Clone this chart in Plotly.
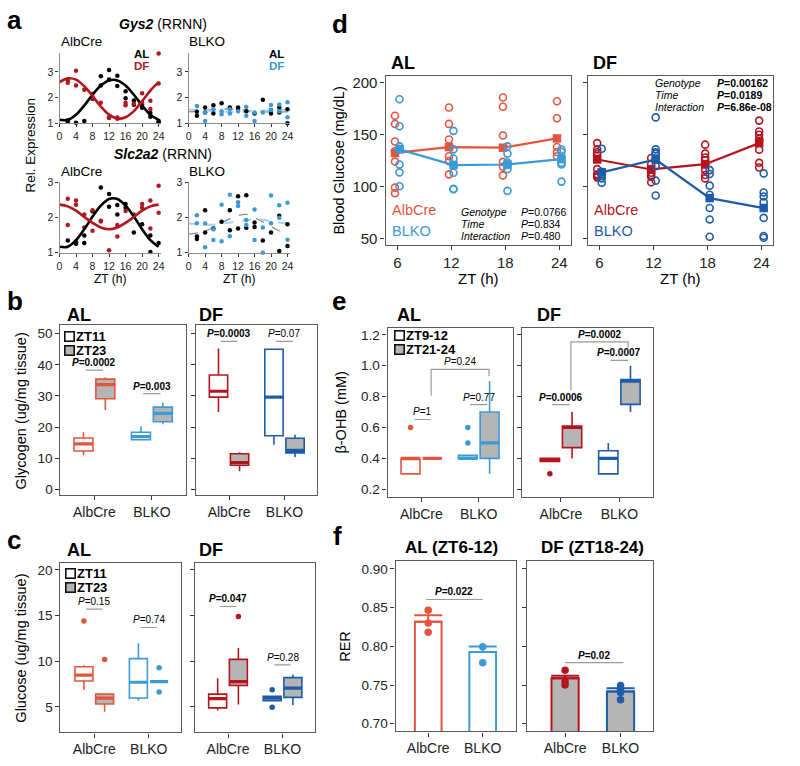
import plotly.graph_objects as go

W, H = 800, 766
FONT = "Liberation Sans, Arial, sans-serif"

# colours
C_AL_ALB = "#E4553F"
C_AL_KO = "#3C9AD6"
C_DF_ALB = "#B5141F"
C_DF_KO = "#1E5BA8"
C_A_RED = "#B0171F"
C_A_BLUE = "#3A9AD9"
GRAY_FILL = "#B5B5B5"
PLINE = "#9a9a9a"

# ======================= DATA =======================
genotypes = ["AlbCre", "BLKO"]

# ---- panel a (ZT hours, relative expression) ----
a_ticks = [0, 4, 8, 12, 16, 20, 24]
fit_zt = [0, 2, 4, 6, 8, 10, 12, 14, 16, 18, 20, 22, 24]

gys2_alb_al_zt = [2, 2, 4, 6, 8, 10, 10, 12, 12, 14, 14, 16, 16, 18, 18, 20, 20, 22, 22, 24, 24]
gys2_alb_al_val = [1.10, 1.06, 1.02, 1.08, 1.95, 2.83, 2.47, 3.08, 2.70, 2.85, 2.45, 2.25, 1.97, 1.88, 1.72, 1.72, 1.60, 1.40, 1.25, 1.08, 1.03]
gys2_alb_df_zt = [2, 2, 4, 4, 6, 8, 8, 10, 12, 12, 14, 14, 16, 16, 18, 20, 20, 22, 22, 24, 24]
gys2_alb_df_val = [2.68, 2.58, 3.05, 2.47, 2.30, 2.15, 1.98, 1.80, 1.23, 1.20, 1.17, 1.22, 1.80, 1.70, 1.76, 2.17, 1.80, 1.87, 1.55, 3.72, 2.55]
gys2_alb_al_fit = [1.13, 1.13, 1.33, 1.69, 2.11, 2.47, 2.67, 2.67, 2.47, 2.11, 1.69, 1.33, 1.13]
gys2_alb_df_fit = [2.60, 2.75, 2.70, 2.44, 2.06, 1.65, 1.33, 1.18, 1.23, 1.47, 1.86, 2.27, 2.60]

gys2_ko_al_zt = [2, 2, 4, 4, 6, 6, 8, 10, 12, 12, 14, 16, 18, 20, 20, 22, 22, 24, 24]
gys2_ko_al_val = [1.44, 1.29, 1.61, 1.42, 1.70, 1.38, 1.78, 1.61, 1.61, 1.55, 1.46, 1.38, 1.91, 1.51, 1.38, 1.61, 1.42, 1.54, 1.00]
gys2_ko_df_zt = [2, 4, 4, 6, 8, 8, 10, 10, 12, 14, 14, 16, 16, 18, 20, 20, 22, 22, 24, 24]
gys2_ko_df_val = [1.67, 1.42, 1.08, 1.54, 1.46, 1.35, 1.54, 1.38, 1.46, 1.63, 1.29, 1.08, 1.42, 1.42, 1.71, 1.51, 1.73, 1.46, 1.82, 1.23]
gys2_ko_al_fit = [1.44, 1.46, 1.50, 1.53, 1.55, 1.55, 1.53, 1.50, 1.47, 1.45, 1.44, 1.44, 1.44]
gys2_ko_df_fit = [1.52, 1.51, 1.49, 1.47, 1.45, 1.44, 1.44, 1.45, 1.46, 1.48, 1.50, 1.52, 1.52]

slc_alb_al_zt = [2, 4, 4, 6, 6, 8, 10, 12, 12, 14, 14, 16, 16, 18, 20, 22, 22, 24]
slc_alb_al_val = [1.35, 1.30, 1.26, 1.49, 1.28, 2.18, 2.86, 2.67, 2.31, 2.36, 2.09, 2.39, 2.28, 1.58, 1.81, 1.49, 1.02, 1.28]
slc_alb_df_zt = [2, 2, 4, 4, 6, 6, 8, 8, 10, 10, 12, 14, 14, 16, 18, 20, 20, 22, 22, 24, 24]
slc_alb_df_val = [2.54, 1.79, 2.49, 2.37, 2.09, 1.72, 2.21, 1.63, 1.91, 1.89, 1.07, 1.79, 1.46, 2.19, 2.09, 2.39, 2.28, 2.49, 1.69, 2.91, 2.14]
slc_alb_al_fit = [1.17, 1.17, 1.36, 1.67, 2.03, 2.34, 2.53, 2.53, 2.34, 2.03, 1.67, 1.36, 1.17]
slc_alb_df_fit = [2.37, 2.32, 2.20, 2.02, 1.85, 1.72, 1.67, 1.72, 1.85, 2.02, 2.20, 2.32, 2.37]

slc_ko_al_zt = [2, 2, 4, 4, 6, 8, 10, 10, 12, 12, 14, 14, 16, 16, 18, 18, 20, 22, 22, 24, 24]
slc_ko_al_val = [1.46, 1.39, 2.21, 1.58, 1.69, 1.88, 2.21, 1.64, 2.61, 1.69, 2.64, 1.71, 1.86, 1.73, 3.03, 1.35, 1.58, 2.05, 1.05, 1.81, 1.19]
slc_ko_df_zt = [2, 2, 4, 4, 6, 6, 8, 8, 10, 10, 12, 12, 14, 14, 16, 16, 18, 18, 20, 20, 22, 22, 24, 24]
slc_ko_df_val = [2.07, 1.84, 1.83, 1.16, 1.67, 1.36, 2.37, 1.33, 2.65, 1.47, 2.44, 2.33, 1.93, 1.79, 2.23, 1.36, 1.72, 1.00, 2.63, 1.84, 2.35, 2.00, 2.42, 1.37]
slc_ko_al_fit = [1.53, 1.56, 1.62, 1.72, 1.85, 1.97, 2.06, 2.09, 2.00, 1.88, 1.75, 1.62, 1.53]
slc_ko_df_fit = [1.83, 1.82, 1.80, 1.80, 1.82, 1.86, 1.90, 1.93, 1.95, 1.94, 1.90, 1.86, 1.83]

# ---- panel d (blood glucose, mg/dL) ----
d_zt = [6, 12, 18, 24]
d_AL_AlbCre = [[168.2, 160.3, 143.4, 133.9, 124.0, 98.9, 93.5],
               [176.2, 160.3, 145.3, 138.0, 129.1, 124.4, 111.7],
               [185.7, 176.8, 149.2, 123.7, 119.0, 110.7],
               [182.2, 165.7, 138.0, 133.3, 129.1]]
d_AL_AlbCre_mean = [132.3, 138.0, 137.4, 146.3]
d_AL_BLKO = [[184.1, 158.1, 138.7, 136.4, 121.2, 113.6, 100.2],
             [153.6, 135.8, 126.9, 120.6, 113.2, 97.7, 97.4],
             [138.7, 131.7, 123.1, 116.7, 121.0, 95.8],
             [135.5, 133.3, 127.9, 122.8, 121.2, 104.7]]
d_AL_BLKO_mean = [135.8, 120.6, 121.2, 126.3]
d_DF_AlbCre = [[141.8, 135.8, 133.0, 131.0, 116.7, 111.7, 110.5, 108.8],
               [127.5, 121.5, 116.7, 113.2, 111.0, 109.4, 104.0],
               [140.3, 131.7, 128.0, 125.3, 121.2, 115.8, 111.0, 107.8],
               [163.5, 153.0, 149.8, 146.0, 144.0, 135.5, 122.8, 118.3]]
d_DF_AlbCre_mean = [126.0, 116.4, 121.5, 141.8]
d_DF_BLKO = [[136.4, 114.2, 112.0, 110.0, 107.8, 103.7],
             [166.6, 135.8, 133.0, 131.7, 126.9, 119.6, 105.6, 91.3],
             [115.8, 112.0, 100.8, 92.0, 79.2, 68.1, 51.6],
             [112.6, 94.2, 90.4, 85.0, 69.7, 52.2, 50.6]]
d_DF_BLKO_mean = [113.6, 126.0, 88.8, 79.2]
d_terms = ["Genotype", "Time", "Interaction"]
d_AL_pvals = ["0.0766", "0.834", "0.480"]
d_DF_pvals = ["0.00162", "0.0189", "6.86e-08"]

# ---- panel b (glycogen) : [lower whisker, Q1, median, Q3, upper whisker] for AlbCre, BLKO ----
glyc_AL_ZT11 = [[10.9, 12.3, 14.6, 16.5, 18.3], [15.9, 15.9, 16.9, 18.3, 20.2]]
glyc_AL_ZT23 = [[25.5, 29.1, 33.6, 35.4, 36.0], [20.9, 21.7, 24.4, 26.4, 27.8]]
glyc_DF_ZT11 = [[24.8, 29.6, 31.5, 36.7, 45.2], [14.3, 17.2, 29.6, 45.0, 45.0]]
glyc_DF_ZT23 = [[5.8, 7.7, 8.6, 11.4, 11.9], [10.4, 11.7, 12.5, 16.4, 17.5]]
glyc_AL_p = ["0.0002", "0.003"]
glyc_DF_p = ["0.0003", "0.07"]

# ---- panel c (liver glucose) ----
gluc_AL_ZT11 = [[6.87, 7.84, 8.49, 9.39, 9.57], [5.68, 5.97, 7.70, 10.29, 11.98]]
gluc_AL_ZT23 = [[4.46, 5.32, 5.97, 6.40, 6.40], [7.77, 7.77, 7.77, 7.77, 7.77]]
gluc_DF_ZT11 = [[4.60, 4.89, 5.90, 6.40, 8.13], [5.68, 5.68, 5.97, 6.15, 6.15]]
gluc_DF_ZT23 = [[5.25, 7.34, 7.77, 10.20, 11.44], [5.18, 6.04, 7.05, 8.20, 8.56]]
gluc_AL_ZT11_out = [[14.42], []]
gluc_AL_ZT23_out = [[10.2], [9.28, 6.62]]
gluc_DF_ZT11_out = [[], [6.87, 4.96]]
gluc_DF_ZT23_out = [[14.9], []]
gluc_AL_p = ["0.15", "0.74"]
gluc_DF_p = ["0.047", "0.28"]

# ---- panel e (beta-OHB) ----
bohb_AL_early = [[0.30, 0.30, 0.40, 0.40, 0.40], [0.40, 0.40, 0.40, 0.42, 0.42]]
bohb_AL_late = [[0.40, 0.40, 0.40, 0.40, 0.40], [0.30, 0.40, 0.50, 0.70, 0.90]]
bohb_DF_early = [[0.38, 0.38, 0.39, 0.40, 0.40], [0.30, 0.30, 0.40, 0.45, 0.50]]
bohb_DF_late = [[0.40, 0.47, 0.60, 0.61, 0.70], [0.70, 0.75, 0.90, 0.91, 1.00]]
bohb_AL_early_out = [[0.60], [0.60, 0.50]]
bohb_DF_early_out = [[0.30], []]
bohb_AL_p = ["1", "0.77", "0.24"]
bohb_DF_p = ["0.0006", "0.0007", "0.0002"]

# ---- panel f (RER) ----
rer_AL_mean = [0.8316, 0.7926]
rer_AL_sem = [0.0084, 0.0072]
rer_AL_pts = [[0.8465, 0.830, 0.818], [0.7994, 0.7786]]
rer_DF_mean = [0.7586, 0.7416]
rer_DF_sem = [0.0034, 0.0043]
rer_DF_pts = [[0.7692, 0.7543, 0.750], [0.7493, 0.7446, 0.7403, 0.731]]
rer_AL_p = "0.022"
rer_DF_p = "0.02"

# ======================= FIGURE =======================
fig = go.Figure()
_n = [0]
annots = []
shapes = []


def axes(box, xr, yr, xtv, ytv, xtt=None, ytt=None, framed=True, ytf=13.5, xtf=14,
         showyl=True, ytformat=None):
    _n[0] += 1
    n = _n[0]
    s = "" if n == 1 else str(n)
    l, t, r, b = box
    common = dict(showgrid=False, zeroline=False, showline=True, mirror=framed,
                  linecolor="#595959" if framed else "#8c8c8c", linewidth=1.3,
                  ticks="outside", ticklen=4 if framed else 3, tickcolor="#333333",
                  tickwidth=1, fixedrange=True)
    xa = dict(domain=[l / W, r / W], range=xr, anchor="y" + s, tickvals=xtv,
              tickfont=dict(size=xtf, color="#222222", family=FONT), **common)
    if xtt is not None:
        xa["ticktext"] = xtt
    ya = dict(domain=[1 - b / H, 1 - t / H], range=yr, anchor="x" + s, tickvals=ytv,
              tickfont=dict(size=ytf, color="#222222", family=FONT),
              showticklabels=showyl, **common)
    if ytt is not None:
        ya["ticktext"] = ytt
    if ytformat:
        ya["tickformat"] = ytformat
    fig.update_layout(**{"xaxis" + s: xa, "yaxis" + s: ya})
    return "x" + s, "y" + s


def txt(x, y, s, size=12, color="#000000", xanchor="left", yanchor="middle", angle=0,
        xref="paper", yref="paper", **kw):
    annots.append(dict(x=x / W if xref == "paper" else x,
                       y=1 - y / H if yref == "paper" else y,
                       xref=xref, yref=yref, text=s, showarrow=False, textangle=angle,
                       font=dict(size=size, color=color, family=FONT),
                       xanchor=xanchor, yanchor=yanchor, **kw))


def key(x, y, fill):
    annots.append(dict(x=x / W, y=1 - y / H, xref="paper", yref="paper", text=" ",
                       showarrow=False, width=8, height=8, bgcolor=fill,
                       bordercolor="#111111", borderwidth=1.6, borderpad=0,
                       xanchor="center", yanchor="middle", font=dict(size=4)))


def ptxt(label, bold):
    s = "<i>P</i>=" + label
    return "<b>" + s + "</b>" if bold else s


def pline(xa, ya, x0, x1, y, label, bold, size=10):
    shapes.append(dict(type="line", xref=xa, yref=ya, x0=x0, x1=x1, y0=y, y1=y,
                       line=dict(color=PLINE, width=1.2)))
    txt((x0 + x1) / 2, y, ptxt(label, bold), size=size, xanchor="center",
        yanchor="bottom", xref=xa, yref=ya, borderpad=0, yshift=1)


def bracket(xa, ya, x0, x1, yl, yr_, ytop, label, bold, size=10):
    shapes.append(dict(type="path", xref=xa, yref=ya,
                       path=f"M {x0},{yl} L {x0},{ytop} L {x1},{ytop} L {x1},{yr_}",
                       line=dict(color=PLINE, width=1.2)))
    txt((x0 + x1) / 2, ytop, ptxt(label, bold), size=size, xanchor="center",
        yanchor="bottom", xref=xa, yref=ya, borderpad=0, yshift=1)


def sc(xa, ya, x, y, **kw):
    fig.add_trace(go.Scatter(x=x, y=y, xaxis=xa, yaxis=ya, showlegend=False,
                             hoverinfo="skip", cliponaxis=False, **kw))


def box(xa, ya, pos, st, color, fill, w=0.33):
    lo, q1, md, q3, hi = st
    fig.add_trace(go.Box(x=[pos], lowerfence=[lo], q1=[q1], median=[md], q3=[q3],
                         upperfence=[hi], width=w, fillcolor=fill,
                         line=dict(color=color, width=1.6), whiskerwidth=0,
                         boxpoints=False, xaxis=xa, yaxis=ya, showlegend=False,
                         hoverinfo="skip"))
    sc(xa, ya, [pos - w / 2, pos + w / 2], [md, md], mode="lines",
       line=dict(color=color, width=3.2))


def box_panel(xa, ya, early, late, cols, early_out=None, late_out=None, off=0.19):
    for i in range(2):
        box(xa, ya, i - off, early[i], cols[i], "white")
        box(xa, ya, i + off, late[i], cols[i], GRAY_FILL)
        for o, outs in ((-off, early_out), (off, late_out)):
            if outs and outs[i]:
                sc(xa, ya, [i + o] * len(outs[i]), outs[i], mode="markers",
                   marker=dict(size=5.5, color=cols[i]))


# ---------------- panel a ----------------
txt(2, 14, "<b>a</b>", size=26)
a_boxes = [((57, 48, 159.5, 119), [1, 3.73], [1, 2, 3]),
           ((187.3, 48, 289.5, 119), [1, 3.73], [1, 2, 3]),
           ((57, 179.3, 159.5, 250.7), [1, 3.0], [1, 2, 3]),
           ((187.3, 179.3, 289.5, 250.7), [1, 3.0], [1, 2, 3])]
a_data = [
    (gys2_alb_al_zt, gys2_alb_al_val, gys2_alb_df_zt, gys2_alb_df_val, gys2_alb_al_fit, gys2_alb_df_fit, C_A_RED, False),
    (gys2_ko_al_zt, gys2_ko_al_val, gys2_ko_df_zt, gys2_ko_df_val, gys2_ko_al_fit, gys2_ko_df_fit, C_A_BLUE, True),
    (slc_alb_al_zt, slc_alb_al_val, slc_alb_df_zt, slc_alb_df_val, slc_alb_al_fit, slc_alb_df_fit, C_A_RED, False),
    (slc_ko_al_zt, slc_ko_al_val, slc_ko_df_zt, slc_ko_df_val, slc_ko_al_fit, slc_ko_df_fit, C_A_BLUE, True),
]
for (bx, yr, ytv), (alz, alv, dfz, dfv, alf, dff, dcol, ko) in zip(a_boxes, a_data):
    xa, ya = axes(bx, [0, 24.6], yr, a_ticks, ytv, framed=False, ytf=10.5, xtf=10.5)
    if ko:
        sc(xa, ya, fit_zt, alf, mode="lines", line=dict(color="#8a8a8a", width=1.3, dash="dash", shape="spline"))
        sc(xa, ya, fit_zt, dff, mode="lines", line=dict(color="#a9d0ee", width=2, dash="dash", shape="spline"))
    sc(xa, ya, alz, alv, mode="markers", marker=dict(size=4.5, color="#000000"))
    sc(xa, ya, dfz, dfv, mode="markers", marker=dict(size=4.5, color=dcol))
    if not ko:
        sc(xa, ya, fit_zt, alf, mode="lines", line=dict(color="#000000", width=2.6, shape="spline"))
        sc(xa, ya, fit_zt, dff, mode="lines", line=dict(color=dcol, width=2.6, shape="spline"))

txt(161, 18, "<b><i>Gys2</i></b> (RRNN)", size=14, xanchor="center")
txt(161, 150, "<b><i>Slc2a2</i></b> (RRNN)", size=14, xanchor="center")
for yy in (36, 168):
    txt(56, yy, "AlbCre", size=13.5)
    txt(186, yy, "BLKO", size=13.5)
txt(148, 49, "<b>AL</b>", size=11.5, xanchor="right", borderpad=0)
txt(148, 61, "<b>DF</b>", size=11.5, color=C_A_RED, xanchor="right", borderpad=0)
txt(284, 49, "<b>AL</b>", size=11.5, xanchor="right", borderpad=0)
txt(284, 61, "<b>DF</b>", size=11.5, color=C_A_BLUE, xanchor="right", borderpad=0)
txt(108, 277, "ZT (h)", size=12, xanchor="center")
txt(238, 277, "ZT (h)", size=12, xanchor="center")
txt(28, 141, "Rel. Expression", size=13.5, xanchor="center", angle=-90)

# ---------------- panel d ----------------
txt(330, 18, "<b>d</b>", size=26)
d_sets = [((386, 71, 573, 243), d_AL_AlbCre, d_AL_AlbCre_mean, d_AL_BLKO, d_AL_BLKO_mean, C_AL_ALB, C_AL_KO, True),
          ((590, 71, 777, 243), d_DF_AlbCre, d_DF_AlbCre_mean, d_DF_BLKO, d_DF_BLKO_mean, C_DF_ALB, C_DF_KO, False)]
for bx, alb, albm, ko, kom, ca, ck, showy in d_sets:
    xa, ya = axes(bx, [4.7, 25.3], [43.4, 206.6], d_zt, [50, 100, 150, 200], framed=True,
                  ytf=15, xtf=15, showyl=showy)
    for grp, mean, col, off in ((alb, albm, ca, -0.26), (ko, kom, ck, 0.24)):
        xs, ys = [], []
        for z, vals in zip(d_zt, grp):
            xs += [z + off] * len(vals)
            ys += vals
        sc(xa, ya, xs, ys, mode="markers",
           marker=dict(symbol="circle-open", size=7, color=col, line=dict(width=1.6)))
        sc(xa, ya, [z + off for z in d_zt], mean, mode="lines+markers",
           line=dict(color=col, width=2.2), marker=dict(symbol="square", size=8.5, color=col))

txt(389, 58, "<b>AL</b>", size=18)
txt(593, 58, "<b>DF</b>", size=18)
txt(339, 157, "Blood Glucose (mg/dL)", size=14.5, xanchor="center", angle=-90)
txt(479.5, 277, "ZT (h)", size=15, xanchor="center")
txt(683.5, 277, "ZT (h)", size=15, xanchor="center")
txt(390, 207, "AlbCre", size=14.5, color=C_AL_ALB)
txt(390, 229, "BLKO", size=14.5, color=C_AL_KO)
txt(594, 207, "AlbCre", size=14.5, color=C_DF_ALB)
txt(594, 229, "BLKO", size=14.5, color=C_DF_KO)
for k, (term, p) in enumerate(zip(d_terms, d_AL_pvals)):
    txt(461, 209 + 12.5 * k, "<i>" + term + "</i>", size=10.5, borderpad=0)
    txt(522, 209 + 12.5 * k, "<i>P</i>=" + p, size=10.5, borderpad=0)
for k, (term, p) in enumerate(zip(d_terms, d_DF_pvals)):
    txt(657, 78 + 12.3 * k, "<i>" + term + "</i>", size=10.5, borderpad=0)
    txt(719, 78 + 12.3 * k, "<b><i>P</i>=" + p + "</b>", size=10.5, borderpad=0)

# ---------------- panel b ----------------
txt(2, 300, "<b>b</b>", size=26)
xb1, yb1 = axes((58, 324, 185, 497), [-0.59, 1.6], [-1.9, 52.8], [0, 1],
                [0, 10, 20, 30, 40, 50], xtt=genotypes)
xb2, yb2 = axes((195, 324, 317, 497), [-0.59, 1.59], [-1.9, 52.8], [0, 1],
                [0, 10, 20, 30, 40, 50], xtt=genotypes, showyl=False)
box_panel(xb1, yb1, glyc_AL_ZT11, glyc_AL_ZT23, [C_AL_ALB, C_AL_KO])
box_panel(xb2, yb2, glyc_DF_ZT11, glyc_DF_ZT23, [C_DF_ALB, C_DF_KO])
pline(xb1, yb1, -0.15, 0.15, 38.3, glyc_AL_p[0], True)
pline(xb1, yb1, 0.85, 1.15, 30.7, glyc_AL_p[1], True)
pline(xb2, yb2, -0.15, 0.15, 47.5, glyc_DF_p[0], True)
pline(xb2, yb2, 0.85, 1.15, 47.5, glyc_DF_p[1], False)
txt(63, 314, "<b>AL</b>", size=18)
txt(196, 314, "<b>DF</b>", size=18)
txt(18, 411, "Glycogen (ug/mg tissue)", size=14.5, xanchor="center", angle=-90)
key(67, 336, "white")
key(67, 350, GRAY_FILL)
txt(73, 336, "<b>ZT11</b>", size=13, borderpad=0)
txt(73, 350, "<b>ZT23</b>", size=13, borderpad=0)

# ---------------- panel c ----------------
txt(2, 542, "<b>c</b>", size=26)
xc1, yc1 = axes((58, 566, 180, 738), [-0.62, 1.6], [2.2, 20.75], [0, 1],
                [5, 10, 15, 20], xtt=genotypes)
xc2, yc2 = axes((194, 566, 315, 738), [-0.6, 1.6], [2.2, 20.75], [0, 1],
                [5, 10, 15, 20], xtt=genotypes, showyl=False)
box_panel(xc1, yc1, gluc_AL_ZT11, gluc_AL_ZT23, [C_AL_ALB, C_AL_KO], gluc_AL_ZT11_out, gluc_AL_ZT23_out)
box_panel(xc2, yc2, gluc_DF_ZT11, gluc_DF_ZT23, [C_DF_ALB, C_DF_KO], gluc_DF_ZT11_out, gluc_DF_ZT23_out)
pline(xc1, yc1, -0.15, 0.15, 15.7, gluc_AL_p[0], False)
pline(xc1, yc1, 0.85, 1.15, 13.7, gluc_AL_p[1], False)
pline(xc2, yc2, -0.15, 0.15, 16.0, gluc_DF_p[0], True)
pline(xc2, yc2, 0.85, 1.15, 9.6, gluc_DF_p[1], False)
txt(63, 553, "<b>AL</b>", size=18)
txt(196, 553, "<b>DF</b>", size=18)
txt(18, 652, "Glucose (ug/mg tissue)", size=14.5, xanchor="center", angle=-90)
key(68, 577, "white")
key(68, 591, GRAY_FILL)
txt(74, 577, "<b>ZT11</b>", size=13, borderpad=0)
txt(74, 591, "<b>ZT23</b>", size=13, borderpad=0)

# ---------------- panel e ----------------
txt(330, 300, "<b>e</b>", size=26)
xe1, ye1 = axes((388, 327, 514, 499), [-0.59, 1.59], [0.149, 1.245], [0, 1],
                [0.2, 0.4, 0.6, 0.8, 1.0, 1.2], xtt=genotypes, ytformat=".1f")
xe2, ye2 = axes((524, 327, 656, 499), [-0.66, 1.58], [0.149, 1.245], [0, 1],
                [0.2, 0.4, 0.6, 0.8, 1.0, 1.2], xtt=genotypes, showyl=False)
box_panel(xe1, ye1, bohb_AL_early, bohb_AL_late, [C_AL_ALB, C_AL_KO], bohb_AL_early_out, None)
box_panel(xe2, ye2, bohb_DF_early, bohb_DF_late, [C_DF_ALB, C_DF_KO], bohb_DF_early_out, None)
pline(xe1, ye1, -0.12, 0.16, 0.652, bohb_AL_p[0], False)
pline(xe1, ye1, 0.85, 1.15, 0.748, bohb_AL_p[1], False)
bracket(xe1, ye1, 0.17, 1.18, 0.805, 0.932, 0.977, bohb_AL_p[2], False)
pline(xe2, ye2, -0.15, 0.15, 0.748, bohb_DF_p[0], True)
pline(xe2, ye2, 0.85, 1.15, 1.034, bohb_DF_p[1], True)
bracket(xe2, ye2, 0.17, 1.15, 0.843, 1.117, 1.155, bohb_DF_p[2], True)
txt(395, 314, "<b>AL</b>", size=18)
txt(537, 314, "<b>DF</b>", size=18)
txt(341, 413, "β-OHB (mM)", size=14.5, xanchor="center", angle=-90)
key(400, 335, "white")
key(400, 349, GRAY_FILL)
txt(406, 335, "<b>ZT9-12</b>", size=13, borderpad=0)
txt(406, 349, "<b>ZT21-24</b>", size=13, borderpad=0)

# ---------------- panel f ----------------
txt(331, 538, "<b>f</b>", size=26)
xf1, yf1 = axes((396, 564, 518, 737), [-0.6, 1.62], [0.69, 0.91], [0, 1],
                [0.70, 0.75, 0.80, 0.85, 0.90], xtt=genotypes, ytformat=".2f")
xf2, yf2 = axes((529, 564, 656, 737), [-0.68, 1.59], [0.69, 0.91], [0, 1],
                [0.70, 0.75, 0.80, 0.85, 0.90], xtt=genotypes, showyl=False)
for (xa, ya), means, sems, pts, cols, fill in (
        ((xf1, yf1), rer_AL_mean, rer_AL_sem, rer_AL_pts, [C_AL_ALB, C_AL_KO], "white"),
        ((xf2, yf2), rer_DF_mean, rer_DF_sem, rer_DF_pts, [C_DF_ALB, C_DF_KO], GRAY_FILL)):
    for i in range(2):
        fig.add_trace(go.Bar(x=[i], y=[means[i]], width=0.49, xaxis=xa, yaxis=ya,
                             marker=dict(color=fill, line=dict(color=cols[i], width=2)),
                             error_y=dict(type="data", symmetric=False, array=[sems[i]],
                                          arrayminus=[0], color=cols[i], thickness=2, width=14),
                             showlegend=False, hoverinfo="skip"))
        sc(xa, ya, [i] * len(pts[i]), pts[i], mode="markers",
           marker=dict(size=7.5, color=cols[i]))
pline(xf1, yf1, -0.04, 1.0, 0.8605, rer_AL_p, True)
pline(xf2, yf2, 0.0, 1.05, 0.779, rer_DF_p, True)
txt(452, 550, "<b>AL (ZT6-12)</b>", size=17, xanchor="center")
txt(595, 550, "<b>DF (ZT18-24)</b>", size=17, xanchor="center")
txt(345, 650, "RER", size=14.5, xanchor="center", angle=-90)

fig.update_layout(width=W, height=H, margin=dict(l=0, r=0, t=0, b=0),
                  paper_bgcolor="white", plot_bgcolor="white", showlegend=False,
                  font=dict(family=FONT, color="#000000"), annotations=annots,
                  shapes=shapes, barmode="overlay", boxmode="overlay")
fig.write_html("out.html", config={"displayModeBar": False},
               post_script="document.body.style.margin='0';document.body.style.padding='0';"
                           "document.body.style.overflow='hidden';")
